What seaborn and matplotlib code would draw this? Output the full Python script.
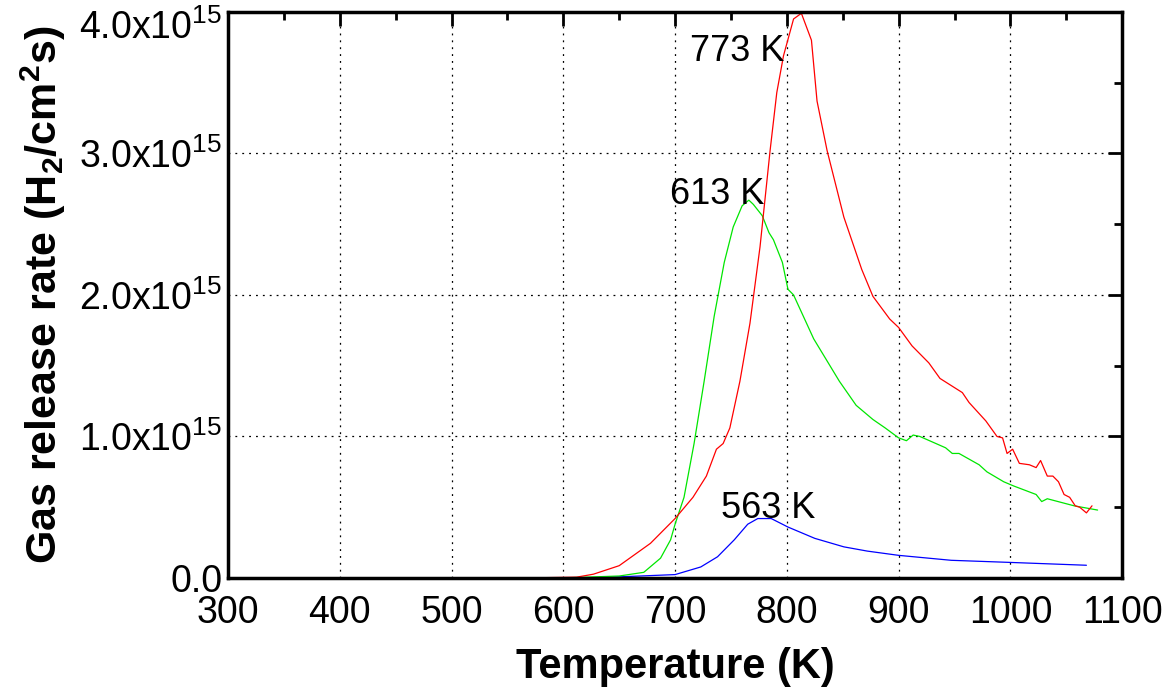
import numpy as np
import pandas as pd
import matplotlib
matplotlib.use('Agg')
import matplotlib.pyplot as plt
import matplotlib.transforms as mtransforms
from matplotlib.ticker import MultipleLocator
import seaborn as sns

# Temperature (K) and release rate (units of 1e15 H2/cm2 s)
t_773 = [300, 400, 500, 580, 612, 627, 650, 678, 700, 716, 728, 737, 743, 749, 758, 767, 776,
         785, 791, 797, 806, 813, 822, 827, 836, 851, 867, 877, 892, 900, 912, 927, 937, 957,
         963, 978, 988, 993, 997, 1002, 1008, 1017, 1023, 1027, 1033, 1038, 1043, 1048, 1053,
         1058, 1062, 1068, 1073]
r_773 = [0.0, 0.0, 0.0, 0.002, 0.006, 0.027, 0.087, 0.245, 0.42, 0.57, 0.72, 0.91, 0.95, 1.06,
         1.39, 1.80, 2.34, 3.02, 3.43, 3.69, 3.95, 3.99, 3.80, 3.37, 3.02, 2.55, 2.18, 1.99,
         1.83, 1.77, 1.64, 1.52, 1.41, 1.31, 1.24, 1.11, 1.00, 0.99, 0.88, 0.91, 0.81, 0.80,
         0.78, 0.83, 0.72, 0.72, 0.68, 0.59, 0.57, 0.51, 0.50, 0.46, 0.51]

t_613 = [300, 400, 500, 598, 650, 672, 687, 696, 700, 708, 717, 726, 735, 744, 752, 760, 766,
         770, 778, 784, 788, 796, 801, 806, 824, 847, 862, 877, 888, 900, 907, 913, 919, 942,
         948, 954, 972, 979, 994, 1003, 1023, 1028, 1033, 1057, 1078]
r_613 = [0.0, 0.0, 0.0, 0.0, 0.014, 0.04, 0.14, 0.27, 0.38, 0.57, 0.95, 1.39, 1.85, 2.23, 2.48,
         2.63, 2.67, 2.64, 2.56, 2.44, 2.39, 2.23, 2.04, 2.00, 1.69, 1.39, 1.22, 1.12, 1.06,
         0.99, 0.97, 1.01, 1.00, 0.92, 0.88, 0.88, 0.80, 0.75, 0.68, 0.65, 0.59, 0.54, 0.56,
         0.51, 0.48]

t_563 = [300, 400, 500, 600, 634, 700, 723, 738, 753, 765, 774, 786, 801, 825, 851, 872, 900,
         947, 1000, 1068]
r_563 = [0.0, 0.0, 0.0, 0.0, 0.003, 0.024, 0.078, 0.15, 0.27, 0.38, 0.42, 0.42, 0.36, 0.28,
         0.22, 0.19, 0.16, 0.125, 0.11, 0.09]

series_names = ['773 K', '613 K', '563 K']
series_colors = ['#ff0000', '#00e600', '#0000ff']

x_ticks = [300, 400, 500, 600, 700, 800, 900, 1000, 1100]
y_ticks = [0, 1e15, 2e15, 3e15, 4e15]
y_tick_labels = ['0.0', '1.0x10$^{15}$', '2.0x10$^{15}$', '3.0x10$^{15}$', '4.0x10$^{15}$']

# label anchor points (T, rate in 1e15)
label_t = [756, 738, 783]
label_r = [3.72, 2.71, 0.49]

frames = []
for name, t, r in zip(series_names, [t_773, t_613, t_563], [r_773, r_613, r_563]):
    frames.append(pd.DataFrame({'T': t, 'rate': np.array(r) * 1e15, 'anneal': name}))
df = pd.concat(frames, ignore_index=True)

sns.set_style('white')
plt.rcParams['font.family'] = ['Liberation Sans', 'DejaVu Sans']
plt.rcParams['mathtext.default'] = 'regular'
plt.rcParams['text.color'] = 'black'
plt.rcParams['axes.labelcolor'] = 'black'

fig = plt.figure(figsize=(11.72, 7.0), dpi=100)
ax = fig.add_axes([0.1945, 0.1743, 0.763, 0.8087])

sns.lineplot(data=df, x='T', y='rate', hue='anneal', hue_order=series_names[::-1],
             palette=dict(zip(series_names, series_colors)), sort=False,
             linewidth=0.9, legend=False, ax=ax)

for name, tx, ry in zip(series_names, label_t, label_r):
    ax.text(tx, ry * 1e15, name, fontsize=26, ha='center', va='center', color='black')

ax.set_xlim(300, 1100)
ax.set_ylim(0, 4e15)
ax.set_xticks(x_ticks)
ax.set_yticks(y_ticks)
ax.set_yticklabels(y_tick_labels)
ax.xaxis.set_minor_locator(MultipleLocator(50))
ax.yaxis.set_minor_locator(MultipleLocator(0.5e15))
ax.tick_params(which='both', direction='in', top=True, right=True, width=2, colors='black',
               labelsize=27, labelcolor='black')
ax.tick_params(which='major', length=10)
ax.tick_params(which='minor', length=6)
ax.tick_params(axis='x', pad=12)
ax.tick_params(axis='y', pad=4)
for s in ax.spines.values():
    s.set_linewidth(2.5)
    s.set_color('black')

# nudge the top tick label down so its exponent stays inside the figure
top_lbl = ax.get_yticklabels()[-1]
top_lbl.set_transform(top_lbl.get_transform() +
                      mtransforms.ScaledTranslation(0, -9 / 72, fig.dpi_scale_trans))

ax.grid(True, which='major', linestyle=(0, (1.5, 4)), color='black', linewidth=0.9)

ax.set_xlabel('Temperature (K)', fontsize=30, fontweight='bold', labelpad=12)
ax.set_ylabel('Gas release rate (H$_2$/cm$^2$s)', fontsize=31, fontweight='bold', labelpad=8)

fig.savefig('out.png', dpi=100)
